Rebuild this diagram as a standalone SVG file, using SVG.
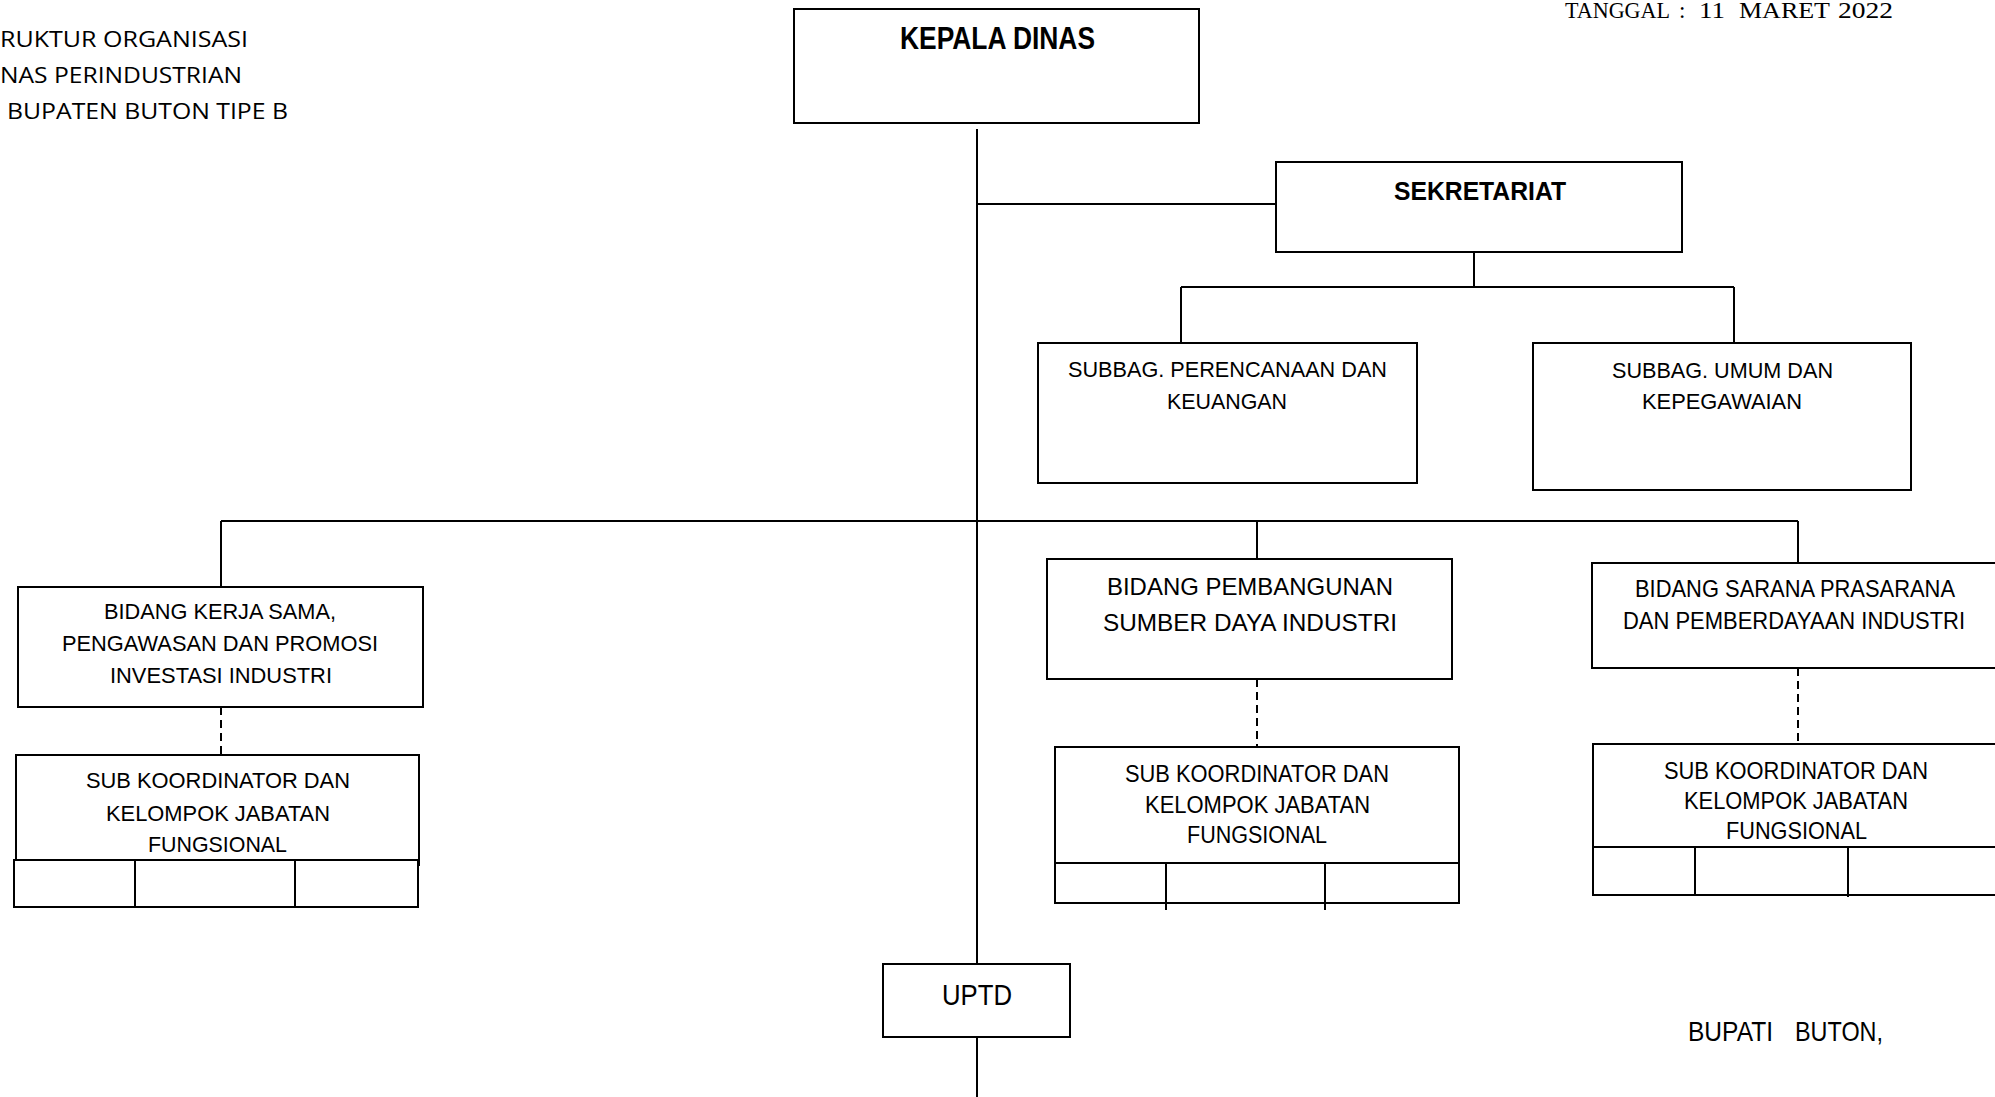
<svg xmlns="http://www.w3.org/2000/svg" width="1995" height="1097" viewBox="0 0 1995 1097">
<style>
.box{fill:#fff;stroke:#000;stroke-width:2}
.ln{fill:none;stroke:#000;stroke-width:2}
.dash{fill:none;stroke:#000;stroke-width:2;stroke-dasharray:8 5}
.t{font-family:"Liberation Sans",Arial,sans-serif;fill:#000}
.b{font-weight:bold}
.hd{font-family:"Open Sans","Noto Sans",sans-serif;font-size:21px;fill:#000}
.sf{font-family:"Liberation Serif","Times New Roman",serif;font-size:23px;fill:#000}
</style>
<rect width="1995" height="1097" fill="#fff"/>
<g id="header">
<text class="hd" x="0" y="47" textLength="248" lengthAdjust="spacingAndGlyphs">RUKTUR ORGANISASI</text>
<text class="hd" x="0" y="83" textLength="242" lengthAdjust="spacingAndGlyphs">NAS PERINDUSTRIAN</text>
<text class="hd" x="7" y="119" textLength="281" lengthAdjust="spacingAndGlyphs">BUPATEN BUTON TIPE B</text>
</g>
<g id="tanggal">
<text class="sf" y="18"><tspan x="1565" textLength="105" lengthAdjust="spacingAndGlyphs">TANGGAL</tspan><tspan x="1679">:</tspan><tspan x="1699" textLength="26" lengthAdjust="spacingAndGlyphs">11</tspan><tspan x="1739" textLength="91" lengthAdjust="spacingAndGlyphs">MARET</tspan><tspan x="1838" textLength="55" lengthAdjust="spacingAndGlyphs">2022</tspan></text>
</g>
<g id="connectors">
<path class="ln" d="M977 129V964M977 1037V1097M977 204H1276"/>
<path class="ln" d="M1474 252V287M1181 287H1734M1181 287V343M1734 287V343"/>
<path class="ln" d="M221 521H1798M221 521V587M1257 521V559M1798 521V563"/>
<path class="dash" d="M221 707V755M1257 679V747M1798 668V744"/>
</g>
<g id="kepala-dinas">
<rect class="box" x="794" y="9" width="405" height="114"/>
<text class="t b" x="900" y="49" font-size="32" textLength="195" lengthAdjust="spacingAndGlyphs">KEPALA DINAS</text>
</g>
<g id="sekretariat">
<rect class="box" x="1276" y="162" width="406" height="90"/>
<text class="t b" x="1394" y="200" font-size="26" textLength="172" lengthAdjust="spacingAndGlyphs">SEKRETARIAT</text>
</g>
<g id="subbag-perencanaan">
<rect class="box" x="1038" y="343" width="379" height="140"/>
<text class="t" x="1068" y="377" font-size="22" textLength="319" lengthAdjust="spacingAndGlyphs">SUBBAG. PERENCANAAN DAN</text>
<text class="t" x="1167" y="409" font-size="22" textLength="120" lengthAdjust="spacingAndGlyphs">KEUANGAN</text>
</g>
<g id="subbag-umum">
<rect class="box" x="1533" y="343" width="378" height="147"/>
<text class="t" x="1612" y="378" font-size="22" textLength="221" lengthAdjust="spacingAndGlyphs">SUBBAG. UMUM DAN</text>
<text class="t" x="1642" y="409" font-size="22" textLength="160" lengthAdjust="spacingAndGlyphs">KEPEGAWAIAN</text>
</g>
<g id="bidang-kerja-sama">
<rect class="box" x="18" y="587" width="405" height="120"/>
<text class="t" x="104" y="619" font-size="22" textLength="232" lengthAdjust="spacingAndGlyphs">BIDANG KERJA SAMA,</text>
<text class="t" x="62" y="651" font-size="22" textLength="316" lengthAdjust="spacingAndGlyphs">PENGAWASAN DAN PROMOSI</text>
<text class="t" x="110" y="683" font-size="22" textLength="222" lengthAdjust="spacingAndGlyphs">INVESTASI INDUSTRI</text>
</g>
<g id="subkoor-1">
<rect class="box" x="16" y="755" width="403" height="110"/>
<rect class="box" x="14" y="860" width="404" height="47"/>
<path class="ln" d="M135 860V907M295 860V907"/>
<text class="t" x="86" y="788" font-size="22" textLength="264" lengthAdjust="spacingAndGlyphs">SUB KOORDINATOR DAN</text>
<text class="t" x="106" y="821" font-size="22" textLength="224" lengthAdjust="spacingAndGlyphs">KELOMPOK JABATAN</text>
<text class="t" x="148" y="852" font-size="22" textLength="139" lengthAdjust="spacingAndGlyphs">FUNGSIONAL</text>
</g>
<g id="bidang-pembangunan">
<rect class="box" x="1047" y="559" width="405" height="120"/>
<text class="t" x="1107" y="595" font-size="24" textLength="286" lengthAdjust="spacingAndGlyphs">BIDANG PEMBANGUNAN</text>
<text class="t" x="1103" y="631" font-size="24" textLength="294" lengthAdjust="spacingAndGlyphs">SUMBER DAYA INDUSTRI</text>
</g>
<g id="subkoor-2">
<rect class="box" x="1055" y="747" width="404" height="156"/>
<path class="ln" d="M1055 863H1459M1166 863V910M1325 863V910"/>
<text class="t" x="1125" y="782" font-size="23" textLength="264" lengthAdjust="spacingAndGlyphs">SUB KOORDINATOR DAN</text>
<text class="t" x="1145" y="813" font-size="23" textLength="225" lengthAdjust="spacingAndGlyphs">KELOMPOK JABATAN</text>
<text class="t" x="1187" y="843" font-size="23" textLength="140" lengthAdjust="spacingAndGlyphs">FUNGSIONAL</text>
</g>
<g id="bidang-sarana">
<rect class="box" x="1592" y="563" width="410" height="105"/>
<text class="t" x="1635" y="597" font-size="24" textLength="320" lengthAdjust="spacingAndGlyphs">BIDANG SARANA PRASARANA</text>
<text class="t" x="1623" y="629" font-size="24" textLength="342" lengthAdjust="spacingAndGlyphs">DAN PEMBERDAYAAN INDUSTRI</text>
</g>
<g id="subkoor-3">
<rect class="box" x="1593" y="744" width="410" height="151"/>
<path class="ln" d="M1593 847H2003M1695 847V895M1848 847V897"/>
<text class="t" x="1664" y="779" font-size="24" textLength="264" lengthAdjust="spacingAndGlyphs">SUB KOORDINATOR DAN</text>
<text class="t" x="1684" y="809" font-size="24" textLength="224" lengthAdjust="spacingAndGlyphs">KELOMPOK JABATAN</text>
<text class="t" x="1726" y="839" font-size="24" textLength="141" lengthAdjust="spacingAndGlyphs">FUNGSIONAL</text>
</g>
<g id="uptd">
<rect class="box" x="883" y="964" width="187" height="73"/>
<text class="t" x="942" y="1005" font-size="30" textLength="70" lengthAdjust="spacingAndGlyphs">UPTD</text>
</g>
<g id="signature">
<text class="t" y="1041" font-size="28"><tspan x="1688" textLength="85" lengthAdjust="spacingAndGlyphs">BUPATI</tspan><tspan x="1795" textLength="88" lengthAdjust="spacingAndGlyphs">BUTON,</tspan></text>
</g>
</svg>
